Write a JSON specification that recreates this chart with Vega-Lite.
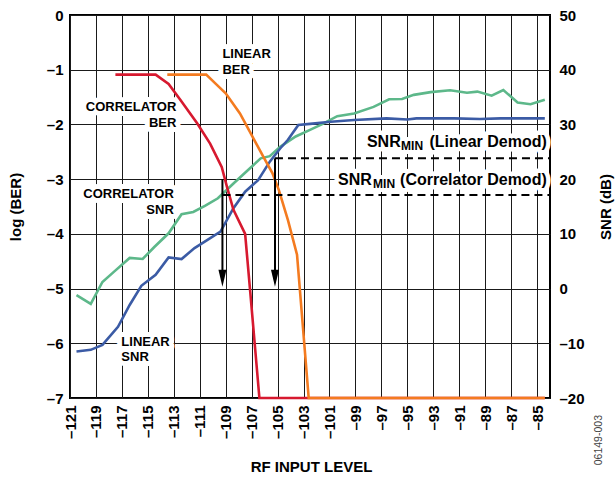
{
  "$schema": "https://vega.github.io/schema/vega-lite/v6.json",
  "width": 480,
  "height": 383,
  "autosize": {"type": "none"},
  "padding": {"left": 70, "top": 15, "right": 66, "bottom": 80},
  "background": "white",
  "config": {
    "view": {"stroke": "black", "strokeWidth": 2},
    "font": "Liberation Sans",
    "axis": {
      "labelFont": "Liberation Sans", "titleFont": "Liberation Sans",
      "labelColor": "black", "titleColor": "black",
      "labelFontWeight": "bold", "titleFontWeight": "bold",
      "labelFontSize": 15, "titleFontSize": 15,
      "ticks": false, "tickSize": 0, "domain": false,
      "gridColor": "#1a1a1a", "gridOpacity": 1, "gridWidth": 1,
      "labelOverlap": false
    }
  },
  "datasets": {
    "ber": [
      {"s": "Correlator BER", "x": -117.5, "ber": -1.09},
      {"s": "Correlator BER", "x": -114.4, "ber": -1.09},
      {"s": "Correlator BER", "x": -113.4, "ber": -1.26},
      {"s": "Correlator BER", "x": -112.5, "ber": -1.55},
      {"s": "Correlator BER", "x": -111.2, "ber": -1.98},
      {"s": "Correlator BER", "x": -110.2, "ber": -2.35},
      {"s": "Correlator BER", "x": -109.3, "ber": -2.78},
      {"s": "Correlator BER", "x": -108.9, "ber": -3.14},
      {"s": "Correlator BER", "x": -108.4, "ber": -3.56},
      {"s": "Correlator BER", "x": -107.5, "ber": -4.0},
      {"s": "Correlator BER", "x": -107.1, "ber": -5.08},
      {"s": "Correlator BER", "x": -106.4, "ber": -7.0},
      {"s": "Correlator BER", "x": -84.4, "ber": -7.0},
      {"s": "Linear BER", "x": -113.5, "ber": -1.09},
      {"s": "Linear BER", "x": -110.5, "ber": -1.09},
      {"s": "Linear BER", "x": -109.8, "ber": -1.25},
      {"s": "Linear BER", "x": -109.0, "ber": -1.43},
      {"s": "Linear BER", "x": -107.9, "ber": -1.8},
      {"s": "Linear BER", "x": -107.1, "ber": -2.15},
      {"s": "Linear BER", "x": -106.1, "ber": -2.59},
      {"s": "Linear BER", "x": -105.4, "ber": -2.89},
      {"s": "Linear BER", "x": -104.9, "ber": -3.2},
      {"s": "Linear BER", "x": -104.2, "ber": -3.75},
      {"s": "Linear BER", "x": -103.5, "ber": -4.38},
      {"s": "Linear BER", "x": -102.6, "ber": -7.0},
      {"s": "Linear BER", "x": -84.4, "ber": -7.0}
    ],
    "snr": [
      {"s": "Correlator SNR", "x": -120.5, "snr": -1.2},
      {"s": "Correlator SNR", "x": -119.4, "snr": -2.8},
      {"s": "Correlator SNR", "x": -118.5, "snr": 1.2},
      {"s": "Correlator SNR", "x": -117.6, "snr": 3.1},
      {"s": "Correlator SNR", "x": -116.4, "snr": 5.6},
      {"s": "Correlator SNR", "x": -115.4, "snr": 5.4},
      {"s": "Correlator SNR", "x": -114.5, "snr": 7.6},
      {"s": "Correlator SNR", "x": -113.4, "snr": 10.1},
      {"s": "Correlator SNR", "x": -112.4, "snr": 13.6},
      {"s": "Correlator SNR", "x": -111.5, "snr": 14.0},
      {"s": "Correlator SNR", "x": -110.6, "snr": 15.1},
      {"s": "Correlator SNR", "x": -109.6, "snr": 16.5},
      {"s": "Correlator SNR", "x": -108.4, "snr": 19.2},
      {"s": "Correlator SNR", "x": -107.4, "snr": 21.4},
      {"s": "Correlator SNR", "x": -106.3, "snr": 23.8},
      {"s": "Correlator SNR", "x": -105.6, "snr": 24.2},
      {"s": "Correlator SNR", "x": -104.8, "snr": 25.9},
      {"s": "Correlator SNR", "x": -103.6, "snr": 27.8},
      {"s": "Correlator SNR", "x": -102.5, "snr": 29.0},
      {"s": "Correlator SNR", "x": -101.6, "snr": 30.0},
      {"s": "Correlator SNR", "x": -100.4, "snr": 31.5},
      {"s": "Correlator SNR", "x": -99.1, "snr": 32.0},
      {"s": "Correlator SNR", "x": -97.6, "snr": 33.2},
      {"s": "Correlator SNR", "x": -96.4, "snr": 34.6},
      {"s": "Correlator SNR", "x": -95.4, "snr": 34.65},
      {"s": "Correlator SNR", "x": -94.5, "snr": 35.4},
      {"s": "Correlator SNR", "x": -93.2, "snr": 35.9},
      {"s": "Correlator SNR", "x": -91.7, "snr": 36.25},
      {"s": "Correlator SNR", "x": -90.4, "snr": 35.8},
      {"s": "Correlator SNR", "x": -89.6, "snr": 36.0},
      {"s": "Correlator SNR", "x": -88.5, "snr": 35.25},
      {"s": "Correlator SNR", "x": -87.6, "snr": 36.3},
      {"s": "Correlator SNR", "x": -86.5, "snr": 34.0},
      {"s": "Correlator SNR", "x": -85.5, "snr": 33.7},
      {"s": "Correlator SNR", "x": -84.4, "snr": 34.5},
      {"s": "Linear SNR", "x": -120.5, "snr": -11.5},
      {"s": "Linear SNR", "x": -119.4, "snr": -11.2},
      {"s": "Linear SNR", "x": -118.5, "snr": -10.3},
      {"s": "Linear SNR", "x": -117.3, "snr": -7.0},
      {"s": "Linear SNR", "x": -116.4, "snr": -3.0},
      {"s": "Linear SNR", "x": -115.5, "snr": 0.5},
      {"s": "Linear SNR", "x": -114.4, "snr": 2.5},
      {"s": "Linear SNR", "x": -113.4, "snr": 5.7},
      {"s": "Linear SNR", "x": -112.4, "snr": 5.4},
      {"s": "Linear SNR", "x": -111.4, "snr": 7.4},
      {"s": "Linear SNR", "x": -110.4, "snr": 8.9},
      {"s": "Linear SNR", "x": -109.4, "snr": 10.4},
      {"s": "Linear SNR", "x": -108.4, "snr": 14.7},
      {"s": "Linear SNR", "x": -107.5, "snr": 17.7},
      {"s": "Linear SNR", "x": -106.5, "snr": 19.8},
      {"s": "Linear SNR", "x": -105.6, "snr": 23.2},
      {"s": "Linear SNR", "x": -104.8, "snr": 25.6},
      {"s": "Linear SNR", "x": -104.2, "snr": 27.2},
      {"s": "Linear SNR", "x": -103.4, "snr": 29.9},
      {"s": "Linear SNR", "x": -102.5, "snr": 30.1},
      {"s": "Linear SNR", "x": -100.9, "snr": 30.5},
      {"s": "Linear SNR", "x": -99.1, "snr": 30.8},
      {"s": "Linear SNR", "x": -96.6, "snr": 31.1},
      {"s": "Linear SNR", "x": -95.0, "snr": 30.9},
      {"s": "Linear SNR", "x": -94.3, "snr": 31.1},
      {"s": "Linear SNR", "x": -91.4, "snr": 31.1},
      {"s": "Linear SNR", "x": -89.4, "snr": 31.0},
      {"s": "Linear SNR", "x": -87.8, "snr": 31.1},
      {"s": "Linear SNR", "x": -84.4, "snr": 31.1}
    ],
    "notesLeft": [
      {"x": -109.25, "ber": -0.79, "t": "LINEAR"},
      {"x": -109.25, "ber": -1.08, "t": "BER"},
      {"x": -117.04, "ber": -6.045, "t": "LINEAR"},
      {"x": -117.04, "ber": -6.33, "t": "SNR"}
    ],
    "notesRight": [
      {"x": -112.8, "ber": -1.755, "t": "CORRELATOR"},
      {"x": -112.8, "ber": -2.04, "t": "BER"},
      {"x": -113.0, "ber": -3.35, "t": "CORRELATOR"},
      {"x": -113.0, "ber": -3.64, "t": "SNR"}
    ],
    "snrMain": [
      {"x": -98.11, "snr": 25.87, "t": "SNR"},
      {"x": -100.34, "snr": 18.93, "t": "SNR"}
    ],
    "snrParen": [
      {"x": -84.25, "snr": 25.87, "t": "(Linear Demod)"},
      {"x": -84.25, "snr": 18.93, "t": "(Correlator Demod)"}
    ],
    "snrSub": [
      {"x": -95.48, "snr": 25.3, "t": "MIN"},
      {"x": -97.64, "snr": 18.43, "t": "MIN"}
    ],
    "dashed": [
      {"x": -105.2, "x2": -84, "snr": 23.8},
      {"x": -109.25, "x2": -84, "snr": 17.1}
    ],
    "arrows": [
      {"x": -109.25, "y1": -3.0, "y2": -4.81},
      {"x": -105.2, "y1": -2.62, "y2": -4.81}
    ],
    "code": [
      {"x": -80.26, "ber": -7.77, "t": "06149-003"}
    ]
  },
  "encoding": {
    "x": {
      "field": "x", "type": "quantitative",
      "scale": {"domain": [-121, -84], "nice": false, "zero": false},
      "axis": {
        "values": [-121, -119, -117, -115, -113, -111, -109, -107, -105, -103, -101, -99, -97, -95, -93, -91, -89, -87, -85],
        "grid": true, "labelAngle": -90, "labelPadding": 7, "labelFlush": false,
        "labelExpr": "datum.value < 0 ? '–' + abs(datum.value) : '' + datum.value",
        "title": "RF INPUT LEVEL", "titleX": 241, "titleY": 68, "titleAlign": "center", "titleBaseline": "middle"
      }
    }
  },
  "layer": [
    {
      "data": {"name": "notesLeft"},
      "mark": {"type": "text", "align": "left", "baseline": "alphabetic", "font": "Liberation Sans", "fontWeight": "bold", "fontSize": 13, "color": "white", "stroke": "white", "strokeWidth": 10, "strokeJoin": "round"},
      "encoding": {
        "y": {"field": "ber", "type": "quantitative", "scale": {"domain": [-7, 0], "nice": false, "zero": false}, "axis": null},
        "text": {"field": "t"}
      }
    },
    {
      "data": {"name": "notesRight"},
      "mark": {"type": "text", "align": "right", "baseline": "alphabetic", "font": "Liberation Sans", "fontWeight": "bold", "fontSize": 13, "color": "white", "stroke": "white", "strokeWidth": 10, "strokeJoin": "round"},
      "encoding": {
        "y": {"field": "ber", "type": "quantitative", "scale": {"domain": [-7, 0], "nice": false, "zero": false}, "axis": null},
        "text": {"field": "t"}
      }
    },
    {
      "data": {"name": "snrMain"},
      "mark": {"type": "text", "align": "left", "baseline": "alphabetic", "font": "Liberation Sans", "fontWeight": "bold", "fontSize": 16, "color": "white", "stroke": "white", "strokeWidth": 9, "strokeJoin": "round"},
      "encoding": {
        "y": {"field": "snr", "type": "quantitative", "scale": {"domain": [-20, 50], "nice": false, "zero": false}, "axis": null},
        "text": {"field": "t"}
      }
    },
    {
      "data": {"name": "snrParen"},
      "mark": {"type": "text", "align": "right", "baseline": "alphabetic", "font": "Liberation Sans", "fontWeight": "bold", "fontSize": 16, "color": "white", "stroke": "white", "strokeWidth": 9, "strokeJoin": "round"},
      "encoding": {
        "y": {"field": "snr", "type": "quantitative", "scale": {"domain": [-20, 50], "nice": false, "zero": false}, "axis": null},
        "text": {"field": "t"}
      }
    },
    {
      "data": {"name": "snrSub"},
      "mark": {"type": "text", "align": "left", "baseline": "alphabetic", "font": "Liberation Sans", "fontWeight": "bold", "fontSize": 12, "color": "white", "stroke": "white", "strokeWidth": 8, "strokeJoin": "round"},
      "encoding": {
        "y": {"field": "snr", "type": "quantitative", "scale": {"domain": [-20, 50], "nice": false, "zero": false}, "axis": null},
        "text": {"field": "t"}
      }
    },
    {
      "data": {"name": "snr"},
      "mark": {"type": "line", "strokeWidth": 2.6},
      "encoding": {
        "y": {
          "field": "snr", "type": "quantitative",
          "scale": {"domain": [-20, 50], "nice": false, "zero": false},
          "axis": {
            "orient": "right", "values": [-20, -10, 0, 10, 20, 30, 40, 50], "grid": false,
            "labelPadding": 9, "labelAlign": "left",
            "labelExpr": "datum.value < 0 ? '–' + abs(datum.value) : '' + datum.value",
            "title": "SNR (dB)", "titleAngle": -90, "titleX": 55, "titleY": 191.5, "titleAlign": "center", "titleBaseline": "middle"
          }
        },
        "color": {
          "field": "s", "type": "nominal", "legend": null,
          "scale": {"domain": ["Correlator BER", "Linear BER", "Correlator SNR", "Linear SNR"], "range": ["#d7192f", "#f47b20", "#5db88a", "#3b5ba5"]}
        }
      }
    },
    {
      "data": {"name": "ber"},
      "mark": {"type": "line", "strokeWidth": 2.6},
      "encoding": {
        "y": {
          "field": "ber", "type": "quantitative",
          "scale": {"domain": [-7, 0], "nice": false, "zero": false},
          "axis": {
            "orient": "left", "values": [-7, -6, -5, -4, -3, -2, -1, 0], "grid": true,
            "labelPadding": 7,
            "labelExpr": "datum.value < 0 ? '–' + abs(datum.value) : '' + datum.value",
            "title": "log (BER)", "titleAngle": -90, "titleX": -55, "titleY": 191.5, "titleAlign": "center", "titleBaseline": "middle"
          }
        },
        "color": {
          "field": "s", "type": "nominal", "legend": null,
          "scale": {"domain": ["Correlator BER", "Linear BER", "Correlator SNR", "Linear SNR"], "range": ["#d7192f", "#f47b20", "#5db88a", "#3b5ba5"]}
        }
      }
    },
    {
      "data": {"name": "dashed"},
      "mark": {"type": "rule", "color": "black", "strokeWidth": 2, "strokeDash": [8, 5]},
      "encoding": {
        "x2": {"field": "x2"},
        "y": {"field": "snr", "type": "quantitative", "scale": {"domain": [-20, 50], "nice": false, "zero": false}, "axis": null}
      }
    },
    {
      "data": {"name": "arrows"},
      "mark": {"type": "rule", "color": "black", "strokeWidth": 2},
      "encoding": {
        "y": {"field": "y1", "type": "quantitative", "scale": {"domain": [-7, 0], "nice": false, "zero": false}, "axis": null},
        "y2": {"field": "y2"}
      }
    },
    {
      "data": {"name": "arrows"},
      "mark": {"type": "point", "shape": "M-0.47,-1L0.47,-1L0,1Z", "filled": true, "color": "black", "opacity": 1, "size": 289},
      "encoding": {
        "y": {"field": "y2", "type": "quantitative", "scale": {"domain": [-7, 0], "nice": false, "zero": false}, "axis": null}
      }
    },
    {
      "data": {"name": "notesLeft"},
      "mark": {"type": "text", "align": "left", "baseline": "alphabetic", "font": "Liberation Sans", "fontWeight": "bold", "fontSize": 13, "color": "black"},
      "encoding": {
        "y": {"field": "ber", "type": "quantitative", "scale": {"domain": [-7, 0], "nice": false, "zero": false}, "axis": null},
        "text": {"field": "t"}
      }
    },
    {
      "data": {"name": "notesRight"},
      "mark": {"type": "text", "align": "right", "baseline": "alphabetic", "font": "Liberation Sans", "fontWeight": "bold", "fontSize": 13, "color": "black"},
      "encoding": {
        "y": {"field": "ber", "type": "quantitative", "scale": {"domain": [-7, 0], "nice": false, "zero": false}, "axis": null},
        "text": {"field": "t"}
      }
    },
    {
      "data": {"name": "snrMain"},
      "mark": {"type": "text", "align": "left", "baseline": "alphabetic", "font": "Liberation Sans", "fontWeight": "bold", "fontSize": 16, "color": "black"},
      "encoding": {
        "y": {"field": "snr", "type": "quantitative", "scale": {"domain": [-20, 50], "nice": false, "zero": false}, "axis": null},
        "text": {"field": "t"}
      }
    },
    {
      "data": {"name": "snrParen"},
      "mark": {"type": "text", "align": "right", "baseline": "alphabetic", "font": "Liberation Sans", "fontWeight": "bold", "fontSize": 16, "color": "black"},
      "encoding": {
        "y": {"field": "snr", "type": "quantitative", "scale": {"domain": [-20, 50], "nice": false, "zero": false}, "axis": null},
        "text": {"field": "t"}
      }
    },
    {
      "data": {"name": "snrSub"},
      "mark": {"type": "text", "align": "left", "baseline": "alphabetic", "font": "Liberation Sans", "fontWeight": "bold", "fontSize": 12, "color": "black"},
      "encoding": {
        "y": {"field": "snr", "type": "quantitative", "scale": {"domain": [-20, 50], "nice": false, "zero": false}, "axis": null},
        "text": {"field": "t"}
      }
    },
    {
      "data": {"name": "code"},
      "mark": {"type": "text", "align": "center", "baseline": "middle", "angle": 270, "font": "Liberation Sans", "fontSize": 10.5, "color": "#444"},
      "encoding": {
        "y": {"field": "ber", "type": "quantitative", "scale": {"domain": [-7, 0], "nice": false, "zero": false}, "axis": null},
        "text": {"field": "t"}
      }
    }
  ],
  "resolve": {"scale": {"y": "independent"}}
}
